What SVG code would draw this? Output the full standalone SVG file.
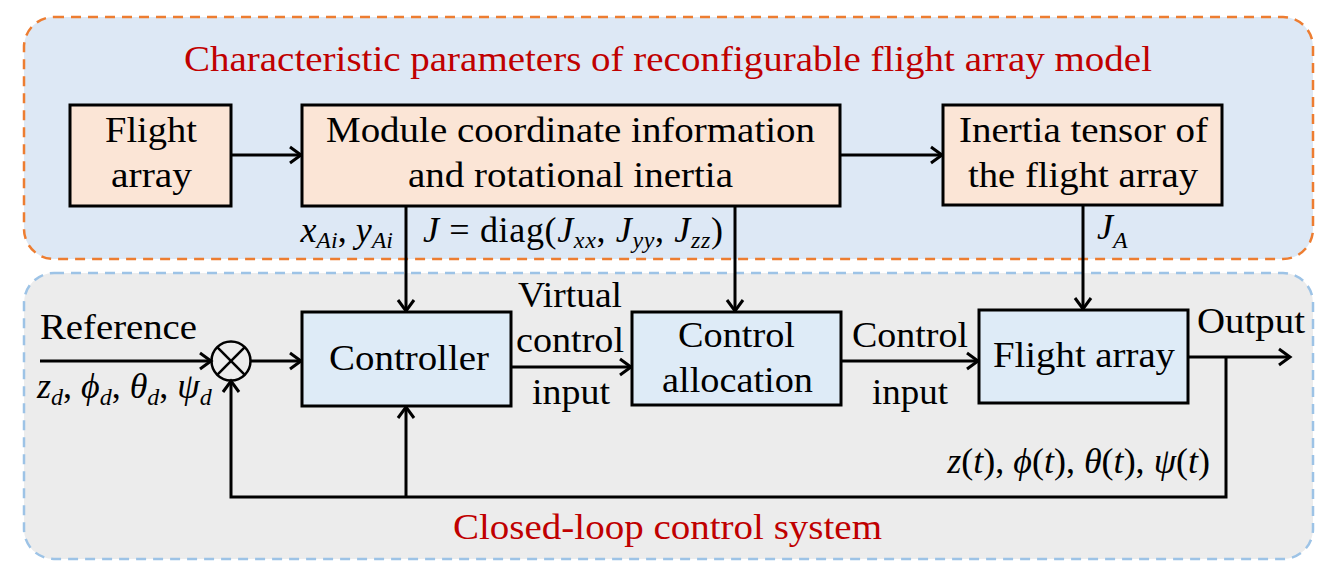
<svg xmlns="http://www.w3.org/2000/svg" width="1339" height="575" viewBox="0 0 1339 575">
<style>
text{font-family:'Liberation Serif','Times New Roman',serif;font-size:36px;fill:#000}
.red{fill:#c00000}
.it{font-style:italic}
.sub{font-size:24px;font-style:italic}
.box{stroke:#000;stroke-width:3}
.pe{fill:#fbe5d6}
.bl{fill:#deebf7}
.ln{fill:none;stroke:#000;stroke-width:3}
</style>
<defs>
<marker id="ah" markerWidth="16" markerHeight="20" refX="13" refY="10" orient="auto" markerUnits="userSpaceOnUse">
<path d="M2,2 L13,10 L2,18" fill="none" stroke="#000" stroke-width="3"/>
</marker>
</defs>
<g id="top-container">
<rect x="24" y="17" width="1289" height="242" rx="30" fill="#dde8f5" stroke="#ed7d31" stroke-width="2.5" stroke-dasharray="10 7"/>
<text class="red" x="184" y="71" textLength="968" lengthAdjust="spacingAndGlyphs">Characteristic parameters of reconfigurable flight array model</text>
</g>
<g id="bottom-container">
<rect x="24" y="273" width="1289" height="286" rx="30" fill="#ececec" stroke="#9dc3e6" stroke-width="2.5" stroke-dasharray="10 7"/>
<text class="red" x="453" y="539" textLength="429" lengthAdjust="spacingAndGlyphs">Closed-loop control system</text>
</g>
<g id="connectors">
<line class="ln" x1="231" y1="155" x2="301" y2="155" marker-end="url(#ah)"/>
<line class="ln" x1="840" y1="155" x2="942" y2="155" marker-end="url(#ah)"/>
<line class="ln" x1="406" y1="206" x2="406" y2="311" marker-end="url(#ah)"/>
<line class="ln" x1="735" y1="206" x2="735" y2="311" marker-end="url(#ah)"/>
<line class="ln" x1="1083" y1="205" x2="1083" y2="309" marker-end="url(#ah)"/>
<line class="ln" x1="40" y1="361" x2="211" y2="361" marker-end="url(#ah)"/>
<line class="ln" x1="251" y1="361" x2="301" y2="361" marker-end="url(#ah)"/>
<line class="ln" x1="511" y1="367" x2="631" y2="367" marker-end="url(#ah)"/>
<line class="ln" x1="841" y1="361" x2="978" y2="361" marker-end="url(#ah)"/>
<line class="ln" x1="1188" y1="357" x2="1290" y2="357" marker-end="url(#ah)"/>
<polyline class="ln" points="1226,357 1226,497 231,497 231,381" marker-end="url(#ah)"/>
<line class="ln" x1="406" y1="497" x2="406" y2="407" marker-end="url(#ah)"/>
</g>
<g id="sum">
<circle cx="231" cy="361" r="19.5" fill="none" stroke="#000" stroke-width="2.5"/>
<line x1="217.2" y1="347.2" x2="244.8" y2="374.8" stroke="#000" stroke-width="2.5"/>
<line x1="244.8" y1="347.2" x2="217.2" y2="374.8" stroke="#000" stroke-width="2.5"/>
</g>
<g id="flight-array-top">
<rect class="box pe" x="70" y="105" width="161" height="101"/>
<text x="105" y="142" textLength="92" lengthAdjust="spacingAndGlyphs">Flight</text>
<text x="111" y="187" textLength="81" lengthAdjust="spacingAndGlyphs">array</text>
</g>
<g id="module-info">
<rect class="box pe" x="302" y="105" width="538" height="101"/>
<text x="326" y="142" textLength="489" lengthAdjust="spacingAndGlyphs">Module coordinate information</text>
<text x="408" y="187" textLength="325" lengthAdjust="spacingAndGlyphs">and rotational inertia</text>
</g>
<g id="inertia-tensor">
<rect class="box pe" x="943" y="105" width="279" height="100"/>
<text x="959" y="142" textLength="249" lengthAdjust="spacingAndGlyphs">Inertia tensor of</text>
<text x="968" y="187" textLength="230" lengthAdjust="spacingAndGlyphs">the flight array</text>
</g>
<g id="labels-top">
<text x="393" y="242" text-anchor="end"><tspan class="it">x</tspan><tspan class="sub" dy="6">Ai</tspan><tspan dy="-6">, </tspan><tspan class="it">y</tspan><tspan class="sub" dy="6">Ai</tspan></text>
<text x="423" y="242" textLength="300" lengthAdjust="spacing"><tspan class="it">J</tspan> = diag(<tspan class="it">J</tspan><tspan class="sub" dy="6">xx</tspan><tspan dy="-6">, </tspan><tspan class="it">J</tspan><tspan class="sub" dy="6">yy</tspan><tspan dy="-6">, </tspan><tspan class="it">J</tspan><tspan class="sub" dy="6">zz</tspan><tspan dy="-6">)</tspan></text>
<text x="1097" y="239"><tspan class="it">J</tspan><tspan class="sub" dy="9">A</tspan></text>
</g>
<g id="reference-labels">
<text x="40" y="339" textLength="157" lengthAdjust="spacingAndGlyphs">Reference</text>
<text x="37" y="398"><tspan class="it">z</tspan><tspan class="sub" dy="7">d</tspan><tspan dy="-7">, </tspan><tspan class="it">ϕ</tspan><tspan class="sub" dy="7">d</tspan><tspan dy="-7">, </tspan><tspan class="it">θ</tspan><tspan class="sub" dy="7">d</tspan><tspan dy="-7">, </tspan><tspan class="it">ψ</tspan><tspan class="sub" dy="7">d</tspan></text>
</g>
<g id="controller">
<rect class="box bl" x="302" y="312" width="209" height="94"/>
<text x="329" y="370" textLength="160" lengthAdjust="spacingAndGlyphs">Controller</text>
</g>
<g id="virtual-input-label">
<text x="518" y="307" textLength="104" lengthAdjust="spacingAndGlyphs">Virtual</text>
<text x="516" y="352" textLength="108" lengthAdjust="spacingAndGlyphs">control</text>
<text x="532" y="404" textLength="78" lengthAdjust="spacingAndGlyphs">input</text>
</g>
<g id="control-allocation">
<rect class="box bl" x="632" y="312" width="209" height="93"/>
<text x="678" y="347" textLength="117" lengthAdjust="spacingAndGlyphs">Control</text>
<text x="662" y="392" textLength="151" lengthAdjust="spacingAndGlyphs">allocation</text>
</g>
<g id="control-input-label">
<text x="852" y="347" textLength="116" lengthAdjust="spacingAndGlyphs">Control</text>
<text x="872" y="404" textLength="76" lengthAdjust="spacingAndGlyphs">input</text>
</g>
<g id="flight-array-bottom">
<rect class="box bl" x="979" y="310" width="209" height="93"/>
<text x="993" y="367" textLength="182" lengthAdjust="spacingAndGlyphs">Flight array</text>
</g>
<g id="output-labels">
<text x="1197" y="333" textLength="108" lengthAdjust="spacingAndGlyphs">Output</text>
<text x="1210" y="473" text-anchor="end"><tspan class="it">z</tspan>(<tspan class="it">t</tspan>), <tspan class="it">ϕ</tspan>(<tspan class="it">t</tspan>), <tspan class="it">θ</tspan>(<tspan class="it">t</tspan>), <tspan class="it">ψ</tspan>(<tspan class="it">t</tspan>)</text>
</g>
</svg>
